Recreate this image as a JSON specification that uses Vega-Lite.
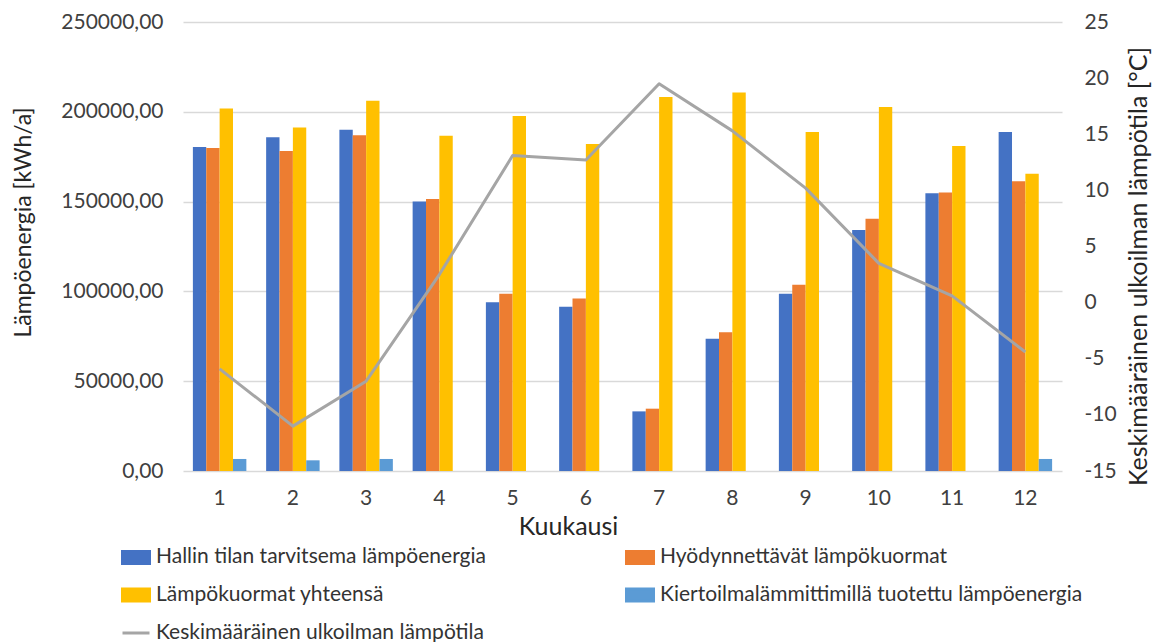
{
  "$schema": "https://vega.github.io/schema/vega-lite/v6.json",
  "width": 879,
  "height": 449,
  "autosize": {"type": "none"},
  "padding": {"left": 183, "top": 22, "right": 103, "bottom": 171},
  "background": "white",
  "config": {
    "font": "Lato",
    "view": {"stroke": null},
    "axis": {
      "labelColor": "#404040",
      "titleColor": "#262626",
      "labelFont": "Lato",
      "titleFont": "Lato",
      "titleFontWeight": "normal",
      "ticks": false,
      "tickSize": 0,
      "domain": false
    }
  },
  "datasets": {
    "energia": [
      {"kk": 1, "sarja": "Hallin tilan tarvitsema lämpöenergia", "arvo": 180400},
      {"kk": 1, "sarja": "Hyödynnettävät lämpökuormat", "arvo": 179800},
      {"kk": 1, "sarja": "Lämpökuormat yhteensä", "arvo": 201900},
      {"kk": 1, "sarja": "Kiertoilmalämmittimillä tuotettu lämpöenergia", "arvo": 6700},
      {"kk": 2, "sarja": "Hallin tilan tarvitsema lämpöenergia", "arvo": 185800},
      {"kk": 2, "sarja": "Hyödynnettävät lämpökuormat", "arvo": 178200},
      {"kk": 2, "sarja": "Lämpökuormat yhteensä", "arvo": 191200},
      {"kk": 2, "sarja": "Kiertoilmalämmittimillä tuotettu lämpöenergia", "arvo": 5950},
      {"kk": 3, "sarja": "Hallin tilan tarvitsema lämpöenergia", "arvo": 190000},
      {"kk": 3, "sarja": "Hyödynnettävät lämpökuormat", "arvo": 186900},
      {"kk": 3, "sarja": "Lämpökuormat yhteensä", "arvo": 206200},
      {"kk": 3, "sarja": "Kiertoilmalämmittimillä tuotettu lämpöenergia", "arvo": 6700},
      {"kk": 4, "sarja": "Hallin tilan tarvitsema lämpöenergia", "arvo": 150000},
      {"kk": 4, "sarja": "Hyödynnettävät lämpökuormat", "arvo": 151400},
      {"kk": 4, "sarja": "Lämpökuormat yhteensä", "arvo": 186700},
      {"kk": 4, "sarja": "Kiertoilmalämmittimillä tuotettu lämpöenergia", "arvo": 0},
      {"kk": 5, "sarja": "Hallin tilan tarvitsema lämpöenergia", "arvo": 93900},
      {"kk": 5, "sarja": "Hyödynnettävät lämpökuormat", "arvo": 98700},
      {"kk": 5, "sarja": "Lämpökuormat yhteensä", "arvo": 197700},
      {"kk": 5, "sarja": "Kiertoilmalämmittimillä tuotettu lämpöenergia", "arvo": 0},
      {"kk": 6, "sarja": "Hallin tilan tarvitsema lämpöenergia", "arvo": 91500},
      {"kk": 6, "sarja": "Hyödynnettävät lämpökuormat", "arvo": 96100},
      {"kk": 6, "sarja": "Lämpökuormat yhteensä", "arvo": 182100},
      {"kk": 6, "sarja": "Kiertoilmalämmittimillä tuotettu lämpöenergia", "arvo": 0},
      {"kk": 7, "sarja": "Hallin tilan tarvitsema lämpöenergia", "arvo": 33200},
      {"kk": 7, "sarja": "Hyödynnettävät lämpökuormat", "arvo": 34700},
      {"kk": 7, "sarja": "Lämpökuormat yhteensä", "arvo": 208200},
      {"kk": 7, "sarja": "Kiertoilmalämmittimillä tuotettu lämpöenergia", "arvo": 0},
      {"kk": 8, "sarja": "Hallin tilan tarvitsema lämpöenergia", "arvo": 73700},
      {"kk": 8, "sarja": "Hyödynnettävät lämpökuormat", "arvo": 77200},
      {"kk": 8, "sarja": "Lämpökuormat yhteensä", "arvo": 210800},
      {"kk": 8, "sarja": "Kiertoilmalämmittimillä tuotettu lämpöenergia", "arvo": 0},
      {"kk": 9, "sarja": "Hallin tilan tarvitsema lämpöenergia", "arvo": 98700},
      {"kk": 9, "sarja": "Hyödynnettävät lämpökuormat", "arvo": 103700},
      {"kk": 9, "sarja": "Lämpökuormat yhteensä", "arvo": 188800},
      {"kk": 9, "sarja": "Kiertoilmalämmittimillä tuotettu lämpöenergia", "arvo": 0},
      {"kk": 10, "sarja": "Hallin tilan tarvitsema lämpöenergia", "arvo": 134200},
      {"kk": 10, "sarja": "Hyödynnettävät lämpökuormat", "arvo": 140500},
      {"kk": 10, "sarja": "Lämpökuormat yhteensä", "arvo": 202700},
      {"kk": 10, "sarja": "Kiertoilmalämmittimillä tuotettu lämpöenergia", "arvo": 0},
      {"kk": 11, "sarja": "Hallin tilan tarvitsema lämpöenergia", "arvo": 154600},
      {"kk": 11, "sarja": "Hyödynnettävät lämpökuormat", "arvo": 155000},
      {"kk": 11, "sarja": "Lämpökuormat yhteensä", "arvo": 181000},
      {"kk": 11, "sarja": "Kiertoilmalämmittimillä tuotettu lämpöenergia", "arvo": 0},
      {"kk": 12, "sarja": "Hallin tilan tarvitsema lämpöenergia", "arvo": 188800},
      {"kk": 12, "sarja": "Hyödynnettävät lämpökuormat", "arvo": 161300},
      {"kk": 12, "sarja": "Lämpökuormat yhteensä", "arvo": 165500},
      {"kk": 12, "sarja": "Kiertoilmalämmittimillä tuotettu lämpöenergia", "arvo": 6700}
    ],
    "lampotila": [
      {"kk": 1, "lampotila": -5.9},
      {"kk": 2, "lampotila": -11.0},
      {"kk": 3, "lampotila": -7.0},
      {"kk": 4, "lampotila": 2.5},
      {"kk": 5, "lampotila": 13.1},
      {"kk": 6, "lampotila": 12.7},
      {"kk": 7, "lampotila": 19.5},
      {"kk": 8, "lampotila": 15.3},
      {"kk": 9, "lampotila": 10.2},
      {"kk": 10, "lampotila": 3.5},
      {"kk": 11, "lampotila": 0.6},
      {"kk": 12, "lampotila": -4.4}
    ]
  },
  "layer": [
    {
      "data": {"name": "energia"},
      "mark": {"type": "bar"},
      "encoding": {
        "x": {
          "field": "kk",
          "type": "ordinal",
          "scale": {"paddingInner": 0.27, "paddingOuter": 0.135},
          "axis": {
            "labelAngle": 0,
            "labelFontSize": 21,
            "labelPadding": 16,
            "grid": false,
            "title": "Kuukausi",
            "titleFontSize": 25,
            "titleX": 385,
            "titleY": 55,
            "titleAnchor": null,
            "titleAlign": "center",
            "titleBaseline": "middle"
          }
        },
        "xOffset": {
          "field": "sarja",
          "type": "nominal",
          "scale": {
            "domain": [
              "Hallin tilan tarvitsema lämpöenergia",
              "Hyödynnettävät lämpökuormat",
              "Lämpökuormat yhteensä",
              "Kiertoilmalämmittimillä tuotettu lämpöenergia"
            ],
            "paddingInner": 0,
            "paddingOuter": 0
          }
        },
        "y": {
          "field": "arvo",
          "type": "quantitative",
          "scale": {"domain": [0, 250000], "nice": false},
          "axis": {
            "values": [0, 50000, 100000, 150000, 200000, 250000],
            "labelExpr": "replace(format(datum.value, '.2f'), '.', ',')",
            "labelFontSize": 21,
            "labelPadding": 20,
            "grid": true,
            "gridColor": "#d9d9d9",
            "gridWidth": 1.5,
            "title": "Lämpöenergia [kWh/a]",
            "titleFontSize": 23,
            "titleX": -160,
            "titleY": 200,
            "titleAngle": 270,
            "titleAlign": "center",
            "titleBaseline": "middle"
          }
        },
        "color": {
          "field": "sarja",
          "type": "nominal",
          "scale": {
            "domain": [
              "Hallin tilan tarvitsema lämpöenergia",
              "Hyödynnettävät lämpökuormat",
              "Lämpökuormat yhteensä",
              "Kiertoilmalämmittimillä tuotettu lämpöenergia",
              "Keskimääräinen ulkoilman lämpötila"
            ],
            "range": ["#4472C4", "#ED7D31", "#FFC000", "#5B9BD5", "#A5A5A5"]
          },
          "legend": {
            "title": null,
            "orient": "none",
            "legendX": -62,
            "legendY": 520,
            "direction": "horizontal",
            "columns": 2,
            "columnPadding": 134,
            "rowPadding": 10,
            "symbolSize": 729,
            "symbolType": "M-1,-0.45H1V0.45H-1Z",
            "labelFontSize": 21,
            "labelColor": "#333333",
            "labelOffset": 5,
            "labelLimit": 700,
            "encode": {
              "symbols": {
                "update": {
                  "shape": {"signal": "datum.value === 'Keskimääräinen ulkoilman lämpötila' ? 'M-1,0H1' : 'M-1,-0.45H1V0.45H-1Z'"},
                  "fill": {"signal": "datum.value === 'Keskimääräinen ulkoilman lämpötila' ? 'transparent' : scale('color', datum.value)"},
                  "stroke": {"signal": "datum.value === 'Keskimääräinen ulkoilman lämpötila' ? '#A5A5A5' : 'transparent'"},
                  "strokeWidth": {"value": 3},
                  "opacity": {"value": 1}
                }
              }
            }
          }
        }
      }
    },
    {
      "data": {"name": "lampotila"},
      "mark": {"type": "line", "strokeWidth": 3, "strokeJoin": "round"},
      "encoding": {
        "x": {"field": "kk", "type": "ordinal"},
        "y": {
          "field": "lampotila",
          "type": "quantitative",
          "scale": {"domain": [-15, 25], "nice": false, "zero": false},
          "axis": {
            "orient": "right",
            "values": [-15, -10, -5, 0, 5, 10, 15, 20, 25],
            "labelExpr": "datum.value + ''",
            "labelFontSize": 21,
            "labelPadding": 22,
            "grid": false,
            "title": "Keskimääräinen ulkoilman lämpötila [°C]",
            "titleFontSize": 25,
            "titleX": 76,
            "titleY": 244,
            "titleAngle": 270,
            "titleAlign": "center",
            "titleBaseline": "middle"
          }
        },
        "color": {"datum": "Keskimääräinen ulkoilman lämpötila"}
      }
    }
  ],
  "resolve": {"scale": {"y": "independent"}}
}
